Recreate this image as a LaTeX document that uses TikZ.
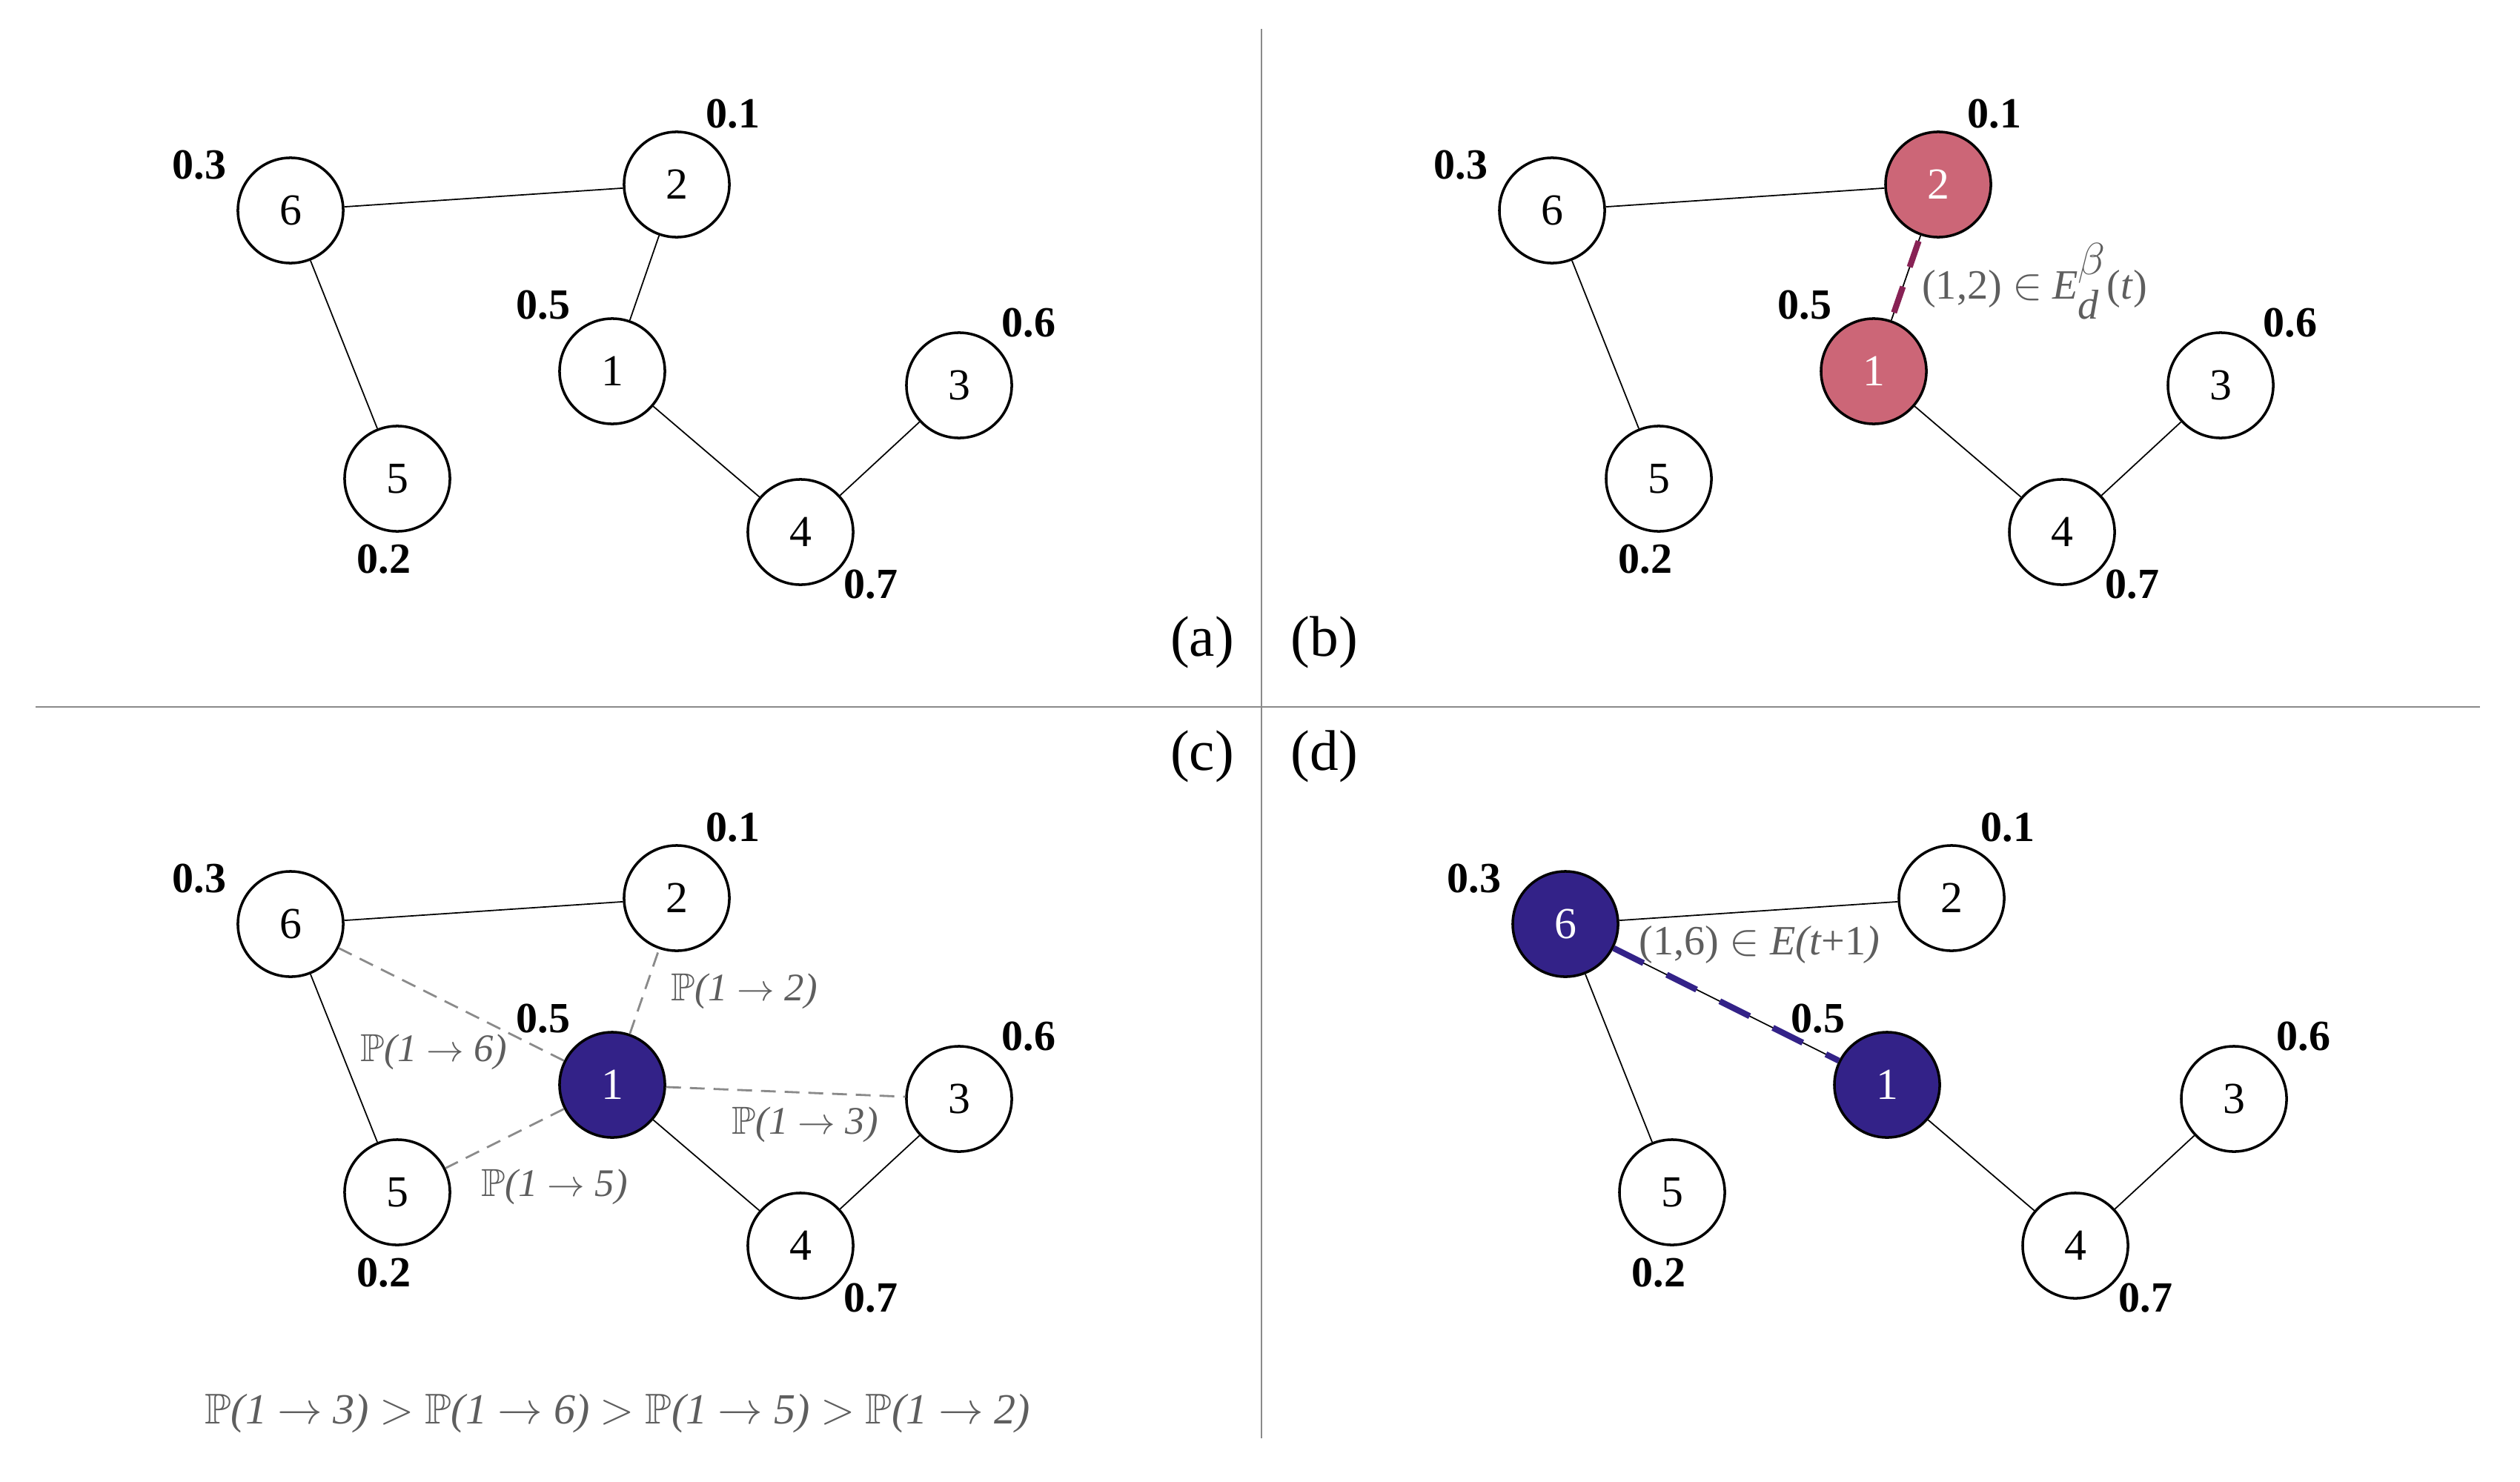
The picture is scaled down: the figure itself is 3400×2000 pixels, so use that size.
\documentclass[tikz,border=0pt]{standalone}
\usepackage{amsmath,amssymb}
\usepackage{fontspec}
\setmainfont{Liberation Serif}
\usetikzlibrary{calc}
\definecolor{rose}{HTML}{CC6677}
\definecolor{wine}{HTML}{882255}
\definecolor{indigo}{HTML}{332288}
\definecolor{ink}{HTML}{5E5E5E}
\definecolor{rule}{HTML}{8A8A8A}
\tikzset{
    vertex/.style={circle,draw=black,fill=white,line width=1pt,
      minimum size=1.42cm,inner sep=0pt,font=\fontsize{17}{19}\selectfont},
    rosenode/.style={fill=rose,text=white},
    indigonode/.style={fill=indigo,text=white},
    paint b1/.style={rosenode},
    paint b2/.style={rosenode},
    paint c1/.style={indigonode},
    paint d1/.style={indigonode},
    paint d6/.style={indigonode},
    weight/.style={font=\fontsize{16.5}{18}\selectfont\bfseries},
    link/.style={draw=black,line width=0.5pt},
    chosen/.style={line width=2.3pt,line cap=butt,dash pattern=on 0.45cm off 0.35cm},
    guess/.style={draw=rule,line width=0.8pt,dash pattern=on 0.2cm off 0.12cm},
    elabel/.style={text=ink,font=\fontsize{15}{17}\selectfont},
    tag/.style={font=\fontsize{22}{24}\selectfont}
}

\begin{document}
\begin{tikzpicture}[x=0.01cm,y=-0.01cm]
  \useasboundingbox (0,0) rectangle (3400,2000);
  % panel rules
  \draw[rule,line width=0.6pt] (1702,39) -- (1702,1941);
  \draw[rule,line width=0.6pt] (48,954) -- (3346,954);
  % the same graph, four times
  \foreach \p/\dx/\dy in {a/0/0,b/1702/0,c/0/963,d/1720/963} {
    \foreach \n/\x/\y/\wx/\wy/\w in {1/826/501/-93/-89/0.5,2/913/249/76/-95/0.1,
        3/1294/520/94/-84/0.6,4/1080/718/95/71/0.7,5/536/646/-18/109/0.2,
        6/392/284/-123/-61/0.3} {
      \node[vertex,paint \p\n/.try] (\p\n) at (\x+\dx,\y+\dy) {\n};
      \node[weight] (w\p\n) at (\x+\dx+\wx,\y+\dy+\wy) {\w};
    }
    \draw[link] (\p6) -- (\p2) (\p6) -- (\p5) (\p1) -- (\p4) (\p4) -- (\p3);
  }
  % (a)
  \draw[link] (a2) -- (a1);
  \node[tag] (ta) at (1622,867) {(a)};
  % (b)
  \draw[link] (b2) -- (b1);
  \draw[chosen,wine,dash pattern=on 0.37cm off 0.28cm,shorten <=0.08cm] (b2) -- (b1);
  \node[elabel,font=\fontsize{16}{18}\selectfont] (lb) at (2745,380)
    {(1,2) $\in$ \textit{E}$^{\textstyle\beta}_{\textstyle\textit{d}}$(\textit{t})};
  \node[tag] (tb) at (1787,867) {(b)};
  % (c)
  \draw[guess] (c1) -- (c6) (c1) -- (c2) (c1) -- (c3) (c1) -- (c5);
  \node[elabel] (l12) at (1004,1338) {$\mathbb{P}$\textit{(1} $\to$ \textit{2)}};
  \node[elabel] (l16) at (585,1420) {$\mathbb{P}$\textit{(1} $\to$ \textit{6)}};
  \node[elabel] (l13) at (1086,1518) {$\mathbb{P}$\textit{(1} $\to$ \textit{3)}};
  \node[elabel] (l15) at (748,1602) {$\mathbb{P}$\textit{(1} $\to$ \textit{5)}};
  \node[elabel,font=\fontsize{16.5}{19}\selectfont] (order) at (833,1908)
    {$\mathbb{P}$\textit{(1} $\to$ \textit{3)} $>$ $\mathbb{P}$\textit{(1} $\to$ \textit{6)} $>$
     $\mathbb{P}$\textit{(1} $\to$ \textit{5)} $>$ $\mathbb{P}$\textit{(1} $\to$ \textit{2)}};
  \node[tag] (tc) at (1622,1021) {(c)};
  % (d)
  \draw[link] (d6) -- (d1);
  \draw[chosen,indigo] (d6) -- (d1);
  \node[elabel,font=\fontsize{16}{18}\selectfont] (ld) at (2374,1275)
    {(1,6) $\in$ \textit{E(t}+1\textit{)}};
  \node[tag] (td) at (1787,1021) {(d)};
\end{tikzpicture}
\end{document}
